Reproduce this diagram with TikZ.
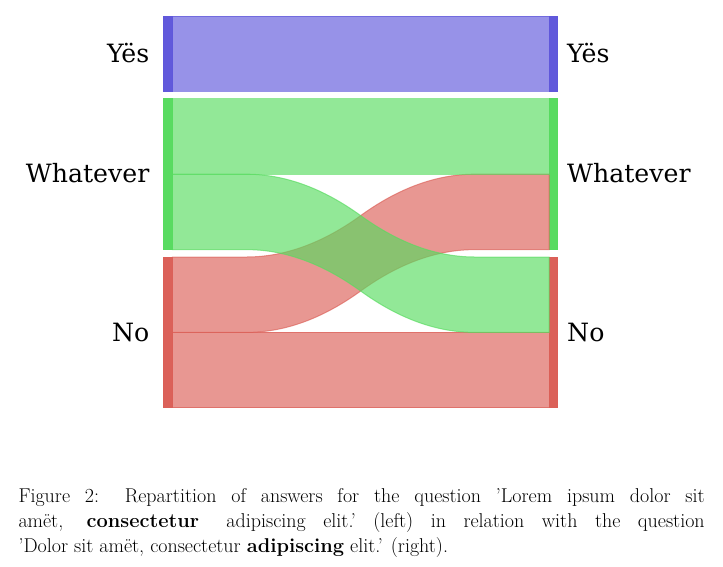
\documentclass[tikz,border=0pt]{standalone}
\usepackage{fontspec}
\newfontfamily\lblfont{DejaVu Serif}
\definecolor{cred}{RGB}{219,95,87}
\definecolor{cgreen}{RGB}{87,219,95}
\definecolor{cblue}{RGB}{95,87,219}
\begin{document}
\begin{tikzpicture}[x=1pt,y=-1pt,
  barbox/.style={fill=#1,draw=#1,opacity=0.99,line width=0.8pt},
  flowband/.style={fill=#1,draw=#1,fill opacity=0.65,draw opacity=0.65,line width=1pt},
  lbl/.style={inner sep=0pt,font=\lblfont\fontsize{25.2}{30}\selectfont}]
\useasboundingbox (0,0) rectangle (723,566);
% bars
\path[barbox=cblue]  (163.3,16)   rectangle (172.3,91.4);
\path[barbox=cgreen] (163.3,98.8) rectangle (172.3,249.6);
\path[barbox=cred]   (163.3,257)  rectangle (172.3,407.8);
\path[barbox=cblue]  (549,16)     rectangle (557.6,91.4);
\path[barbox=cgreen] (549,98.8)   rectangle (557.6,249.6);
\path[barbox=cred]   (549,257)    rectangle (557.6,407.8);
% flows from No
\path[flowband=cred] (172.3,257) -- (246.4,257)
  .. controls (284.5,257) and (322.55,243.2) .. (360.65,215.6)
  .. controls (398.75,188) and (436.8,174.2) .. (474.9,174.2)
  -- (549,174.2) -- (549,249.6) -- (474.9,249.6)
  .. controls (436.8,249.6) and (398.75,263.4) .. (360.65,291)
  .. controls (322.55,318.6) and (284.5,332.4) .. (246.4,332.4)
  -- (172.3,332.4) -- cycle;
\path[flowband=cred] (172.3,332.4) rectangle (549,407.8);
% flows from Whatever
\path[flowband=cgreen] (172.3,98.8) rectangle (549,174.2);
\path[flowband=cgreen] (172.3,174.2) -- (246.4,174.2)
  .. controls (284.5,174.2) and (322.55,188) .. (360.65,215.6)
  .. controls (398.75,243.2) and (436.8,257) .. (474.9,257)
  -- (549,257) -- (549,332.4) -- (474.9,332.4)
  .. controls (436.8,332.4) and (398.75,318.6) .. (360.65,291)
  .. controls (322.55,263.4) and (284.5,249.6) .. (246.4,249.6)
  -- (172.3,249.6) -- cycle;
% flow from Yes
\path[flowband=cblue] (172.3,16) rectangle (549,91.4);
% labels
\node[lbl,anchor=base east] (lyes) at (149.5,62.3) {Yës};
\node[lbl,anchor=base east] (lwhat) at (149.5,182.6) {Whatever};
\node[lbl,anchor=base east] (lno) at (149.5,341.2) {No};
\node[lbl,anchor=base west] (ryes) at (567,62.3) {Yës};
\node[lbl,anchor=base west] (rwhat) at (567,182.6) {Whatever};
\node[lbl,anchor=base west] (rno) at (567,341.2) {No};
% caption
\node[anchor=north west,inner sep=0pt,text width=686.2pt,align=justify,
  font=\fontsize{20}{25.2}\selectfont] (cap) at (18.3,484.36)
  {\strut Figure 2: Repartition of answers for the question 'Lorem ipsum dolor sit\linebreak
   amët,\hspace{12pt plus 3pt}\textbf{consectetur}\hspace{16pt plus 3pt}adipiscing elit.'\ (left) in relation with the question\linebreak
   'Dolor sit amët, consectetur \textbf{adipiscing} elit.' (right).};
\end{tikzpicture}
\end{document}
